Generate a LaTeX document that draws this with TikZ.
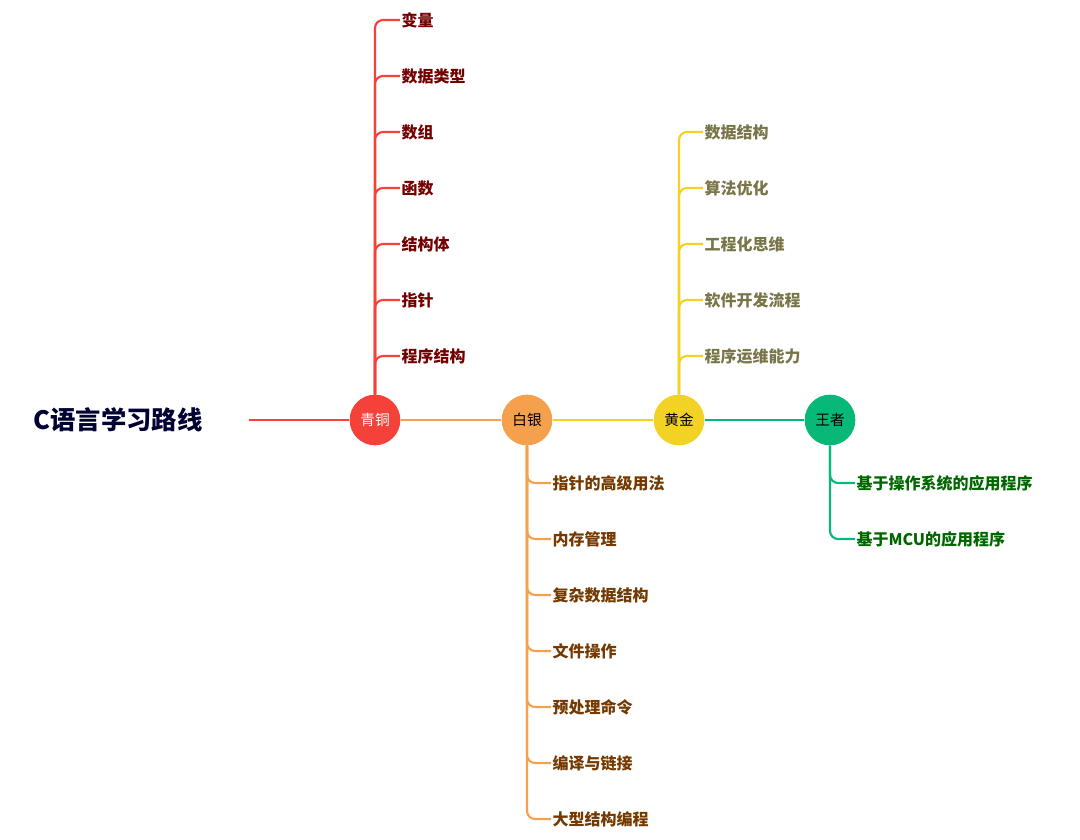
\documentclass[tikz,border=0pt]{standalone}
\usepackage{fontspec}
\setmainfont{Noto Sans CJK SC}
\begin{document}
\begin{tikzpicture}[x=0.75pt,y=-0.75pt,
  hub/.style={circle,minimum size=38pt,inner sep=0pt,font=\fontsize{11}{12}\selectfont},
  leaf/.style={anchor=west,inner sep=1pt,font=\bfseries\fontsize{12}{14}\selectfont},
  br/.style={line width=1.6pt,rounded corners=6pt}]
\useasboundingbox (0,0) rectangle (1080,839);
\definecolor{cR}{HTML}{F4413A}\definecolor{cO}{HTML}{F5A04C}
\definecolor{cY}{HTML}{F2D224}\definecolor{cG}{HTML}{08B878}
\node[font=\bfseries\fontsize{19}{22}\selectfont,text=black!80!blue] (title) at (118,420) {C语言学习路线};
\node[hub,fill=cR,text=white] (q) at (375,420) {青铜};
\node[hub,fill=cO] (b) at (527,420) {白银};
\node[hub,fill=cY] (h) at (679,420) {黄金};
\node[hub,fill=cG] (w) at (830,420) {王者};
\coordinate (s) at (249,420);
\draw[line width=2.2pt,cR] (s) -- (q);
\draw[line width=2.2pt,cO] (q) -- (b);
\draw[line width=2.2pt,cY] (b) -- (h);
\draw[line width=2.2pt,cG] (h) -- (w);
\foreach \t [count=\i] in {变量,数据类型,数组,函数,结构体,指针,程序结构}{
  \node[leaf,text=red!45!black] (q\i) at (400,{20+56*(\i-1)}) {\t};
  \draw[br,cR] (q.north) |- (q\i.west);}
\foreach \t [count=\i] in {数据结构,算法优化,工程化思维,软件开发流程,程序运维能力}{
  \node[leaf,text=yellow!40!black] (h\i) at (703,{132+56*(\i-1)}) {\t};
  \draw[br,cY] (h.north) |- (h\i.west);}
\foreach \t [count=\i] in {指针的高级用法,内存管理,复杂数据结构,文件操作,预处理命令,编译与链接,大型结构编程}{
  \node[leaf,text=orange!45!black] (b\i) at (551,{483+56*(\i-1)}) {\t};
  \draw[br,cO] (b.south) |- (b\i.west);}
\foreach \t [count=\i] in {基于操作系统的应用程序,基于MCU的应用程序}{
  \node[leaf,text=green!40!black] (w\i) at (855,{483+56*(\i-1)}) {\t};
  \draw[br,cG] (w.south) |- (w\i.west);}
\end{tikzpicture}
\end{document}
